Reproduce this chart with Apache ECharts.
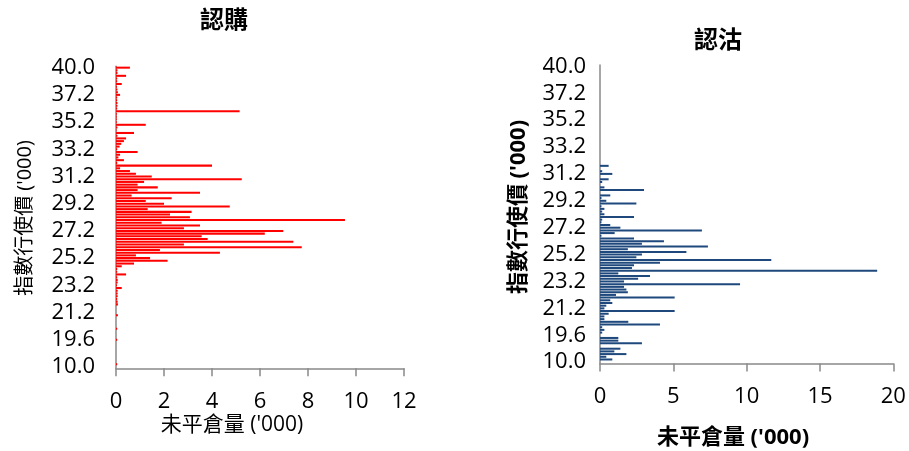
<!DOCTYPE html>
<html>
<head>
<meta charset="utf-8">
<script src="https://cdn.jsdelivr.net/npm/echarts@6/dist/echarts.min.js"></script>
<style>
html,body{margin:0;padding:0;background:#fff;}
#chart{width:909px;height:451px;}
</style>
</head>
<body>
<div id="chart"></div>
<script>
// Strike prices ('000), top to bottom
const strikes = [
  "40.0","39.4","39.0","38.6","38.4","38.2","38.0","37.8","37.6","37.4",
  "37.2","37.0","36.8","36.6","36.4","36.2","36.0","35.8","35.6","35.4",
  "35.2","35.0","34.8","34.6","34.4","34.2","34.0","33.8","33.6","33.4",
  "33.2","33.0","32.8","32.6","32.4","32.2","32.0","31.8","31.6","31.4",
  "31.2","31.0","30.8","30.6","30.4","30.2","30.0","29.8","29.6","29.4",
  "29.2","29.0","28.8","28.6","28.4","28.2","28.0","27.8","27.6","27.4",
  "27.2","27.0","26.8","26.6","26.4","26.2","26.0","25.8","25.6","25.4",
  "25.2","25.0","24.8","24.6","24.4","24.2","24.0","23.8","23.6","23.4",
  "23.2","23.0","22.8","22.6","22.4","22.2","22.0","21.8","21.6","21.4",
  "21.2","21.0","20.8","20.6","20.4","20.2","20.0","19.9","19.8","19.7",
  "19.6","19.4","19.2","19.0","18.6","18.0","17.0","16.0","14.0","12.0",
  "10.0"
];

// Call open interest ('000)
const callOI = [
  0.58,0.06,0.06,0.42,0.05,0.05,0.24,0.04,0.06,0.08,
  0.17,0.05,0.05,0.06,0.06,0.05,5.15,0.03,0.03,0.03,
  0.03,1.24,0.06,0.02,0.75,0.06,0.42,0.33,0.22,0.15,
  0.05,0.9,0.17,0.1,0.33,0.05,4.0,0.17,0.58,0.83,
  1.49,5.24,1.17,0.9,1.74,0.9,3.5,0.65,2.32,1.24,
  2.0,4.74,1.32,3.15,2.25,3.08,9.54,1.9,3.5,2.83,
  6.97,6.2,3.57,3.82,7.39,2.83,7.74,1.83,4.33,0.83,
  1.42,2.15,0.75,0.24,0.05,0.05,0.42,0.05,0.07,0.07,
  0.04,0.24,0.07,0.07,0.07,0.05,0.07,0.08,0,0,
  0,0.08,0,0,0,0,0.05,0,0,0,
  0.05,0,0,0,0,0,0,0,0,0.05,
  0
];

// Put open interest ('000)
const putOI = [
  0,0,0,0,0,0,0,0,0,0,
  0,0,0,0,0,0,0,0,0,0,
  0,0,0,0,0,0,0,0,0,0,
  0,0,0,0,0,0,0,0.59,0,0.15,
  0.84,0,0.59,0.15,0,0.3,3.0,0,0.7,0.1,
  0.43,2.48,0.1,0.3,0.15,0.3,2.32,0.15,0.1,0.7,
  1.39,6.95,1.0,0.1,2.32,4.36,2.86,7.36,1.9,5.89,
  2.86,2.48,11.68,4.09,2.32,2.18,18.9,1.25,3.41,2.6,
  1.64,9.55,1.64,1.8,1.9,1.09,5.09,0.7,0.84,0.43,
  0.3,5.09,0.59,0.3,0.3,1.93,4.09,0.15,0.3,0.15,
  0,1.25,1.25,2.86,0,1.39,0.98,1.8,0.43,0.84,
  0
];

const titles = ["認購", "認沽"];
const yName = "指數行使價 ('000)";
const xName = "未平倉量 ('000)";

const FONT = "'Open Sans','Noto Sans CJK TC',sans-serif";
const axisGray = '#898989';

const chart = echarts.init(document.getElementById('chart'), null, {renderer: 'canvas'});

function catAxis(gridIndex, margin) {
  return {
    type: 'category', gridIndex: gridIndex, data: strikes, inverse: true,
    axisLine: {show: true, lineStyle: {color: axisGray, width: 1.5}},
    axisTick: {show: false},
    axisLabel: {interval: 9, margin: margin, fontFamily: FONT, fontSize: 22, color: '#000'},
    splitLine: {show: false}
  };
}
function valAxis(gridIndex, max, interval) {
  return {
    type: 'value', gridIndex: gridIndex, min: 0, max: max, interval: interval,
    axisLine: {show: true, lineStyle: {color: axisGray, width: 1.5}},
    axisTick: {show: true, length: 8, lineStyle: {color: axisGray, width: 1.5}},
    axisLabel: {margin: 22, fontFamily: FONT, fontSize: 22, color: '#000'},
    splitLine: {show: false}
  };
}

chart.setOption({
  animation: false,
  backgroundColor: '#fff',
  grid: [
    {left: 116, top: 66.3, width: 288, height: 302},
    {left: 600, top: 65, width: 293.3, height: 298.5}
  ],
  xAxis: [valAxis(0, 12, 2), valAxis(1, 20, 5)],
  yAxis: [catAxis(0, 21), catAxis(1, 14)],
  series: [
    {type: 'bar', name: titles[0], xAxisIndex: 0, yAxisIndex: 0, data: callOI,
     barWidth: '75%', itemStyle: {color: '#FF0000'}},
    {type: 'bar', name: titles[1], xAxisIndex: 1, yAxisIndex: 1, data: putOI,
     barWidth: '75%', itemStyle: {color: '#1F497D'}}
  ],
  graphic: [
    {type: 'text', x: 224, y: 21, style: {text: titles[0], align: 'center', verticalAlign: 'middle',
      font: 'bold 24px ' + FONT, fill: '#000'}},
    {type: 'text', x: 718, y: 41, style: {text: titles[1], align: 'center', verticalAlign: 'middle',
      font: 'bold 24px ' + FONT, fill: '#000'}},
    {type: 'text', x: 25, y: 218, rotation: Math.PI / 2, style: {text: yName, align: 'center', verticalAlign: 'middle',
      font: '20px ' + FONT, fill: '#000'}},
    {type: 'text', x: 232, y: 425, style: {text: xName, align: 'center', verticalAlign: 'middle',
      font: '21px ' + FONT, fill: '#000'}},
    {type: 'text', x: 519, y: 207, rotation: Math.PI / 2, style: {text: yName, align: 'center', verticalAlign: 'middle',
      font: 'bold 22px ' + FONT, fill: '#000'}},
    {type: 'text', x: 733, y: 438, style: {text: xName, align: 'center', verticalAlign: 'middle',
      font: 'bold 22px ' + FONT, fill: '#000'}}
  ]
});
</script>
</body>
</html>
